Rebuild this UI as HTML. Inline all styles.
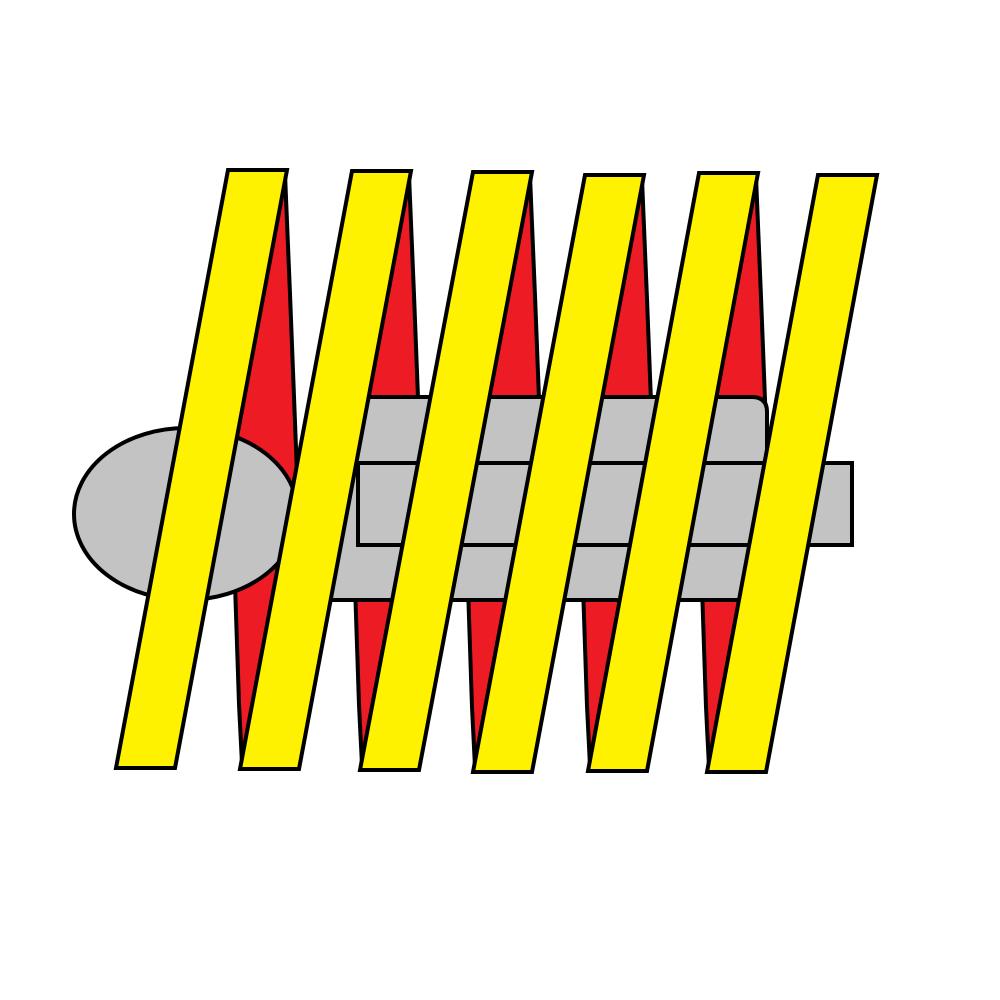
<!DOCTYPE html>
<html><head><meta charset="utf-8"><style>html,body{margin:0;padding:0;background:#fff}svg{display:block}</style></head>
<body>
<svg id="art" width="1000" height="1000" viewBox="0 0 1000 1000" xmlns="http://www.w3.org/2000/svg">
<rect width="1000" height="1000" fill="#fff"/>
<g id="reds"></g>
<g stroke="#000" stroke-width="4">
  <path d="M322,397 H752 Q767,397 767,412 V600 H322 Z" fill="#c3c3c3"/>
  <rect x="358" y="463" width="494" height="82" fill="#c3c3c3"/>
  <ellipse cx="186" cy="514" rx="112" ry="86" fill="#c3c3c3"/>
</g>
<g id="stripes" stroke="#000" stroke-width="4" fill="#fff200"></g>
</svg>
<script>
const topLeftX = [228, 352, 473, 585, 699, 818];
const topY = [170, 171, 172, 175, 173, 175];
const botLeftX = [116, 240, 360, 473, 588, 707];
const botY = [768, 769, 770, 772, 771, 772];
const stripeW = 59;
const NS = 'http://www.w3.org/2000/svg';
const reds = document.getElementById('reds');
const stripes = document.getElementById('stripes');
for (let i = 0; i < topLeftX.length - 1; i++) {
  const ax = topLeftX[i] + stripeW, ay = topY[i] + 4;
  const up = document.createElementNS(NS, 'polygon');
  up.setAttribute('points', `${ax-2},${ay} ${ax+3},${ay+120} ${ax+10},${ay+300} ${ax+10},${ay+315} ${ax-90},${ay+315}`);
  up.setAttribute('fill', '#ed1c24'); up.setAttribute('stroke', '#000'); up.setAttribute('stroke-width', '4'); up.setAttribute('stroke-linejoin', 'round');
  
  
  reds.appendChild(up);
  const bx = botLeftX[i+1] + 2, by = botY[i+1] - 5;
  const dn = document.createElementNS(NS, 'polygon');
  dn.setAttribute('points', `${bx},${by} ${bx-3},${by-60} ${bx-7},${by-180} ${bx-7},${by-200} ${bx+90},${by-200}`);
  dn.setAttribute('fill', '#ed1c24'); dn.setAttribute('stroke', '#000'); dn.setAttribute('stroke-width', '4'); dn.setAttribute('stroke-linejoin', 'round');
  
  
  reds.appendChild(dn);
}
for (let i = 0; i < topLeftX.length; i++) {
  const p = document.createElementNS(NS, 'polygon');
  p.setAttribute('points', `${topLeftX[i]},${topY[i]} ${topLeftX[i]+stripeW},${topY[i]} ${botLeftX[i]+stripeW},${botY[i]} ${botLeftX[i]},${botY[i]}`);
  
  
  stripes.appendChild(p);
}
</script>
</body></html>
